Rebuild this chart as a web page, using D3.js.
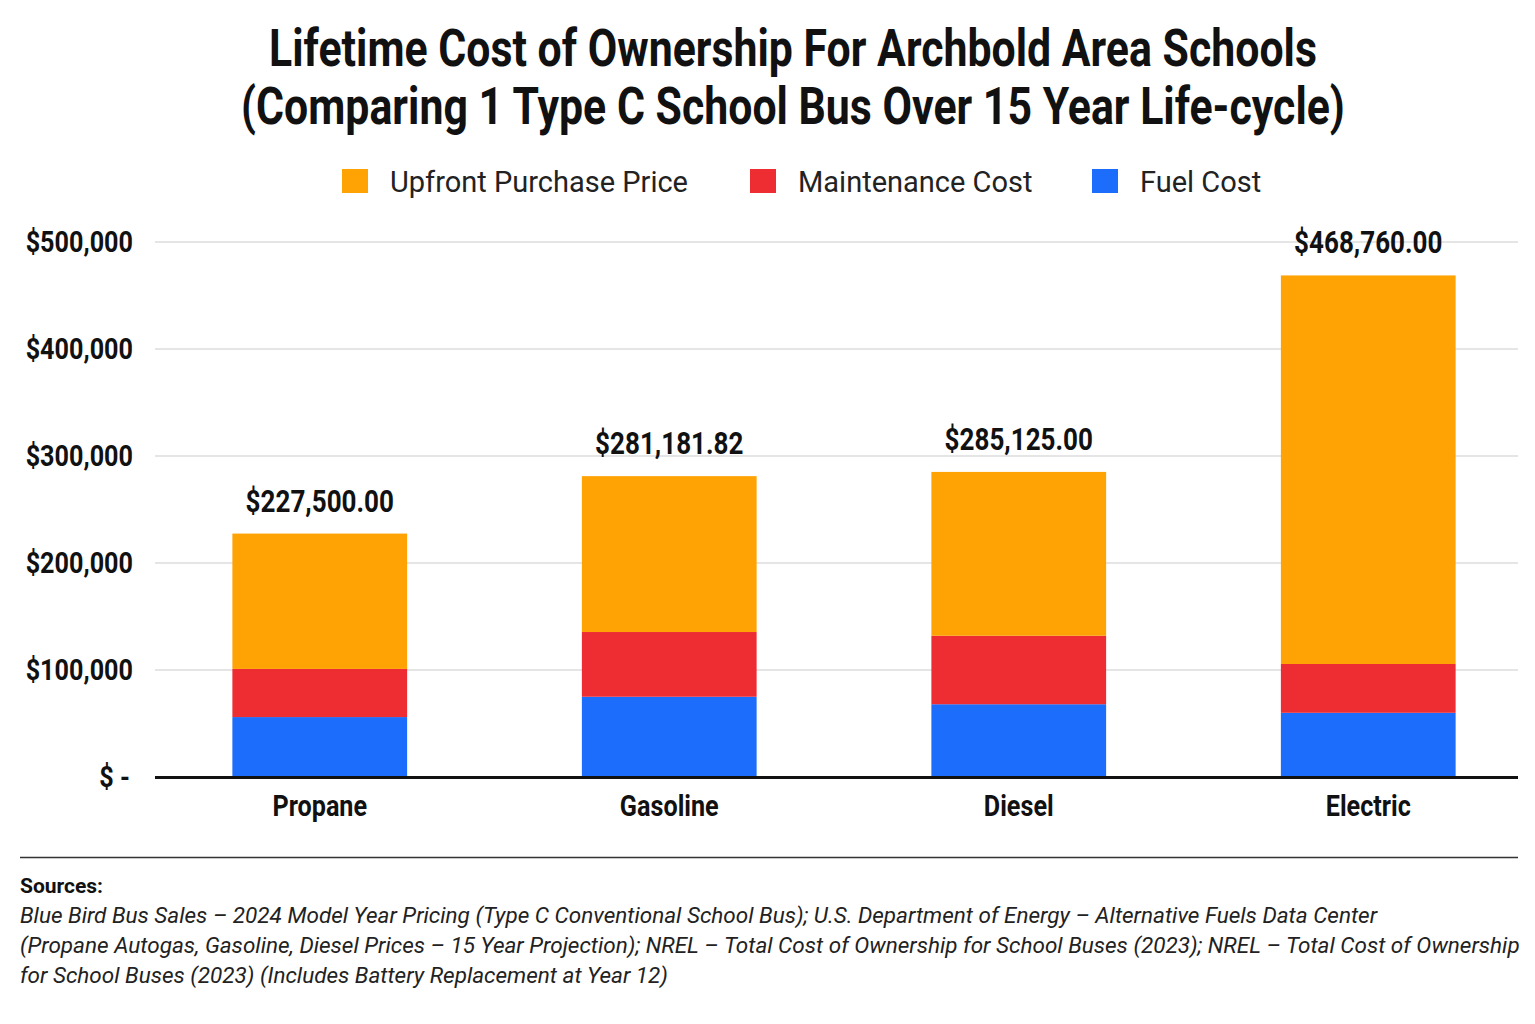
<!DOCTYPE html>
<html>
<head>
<meta charset="utf-8">
<script src="https://cdn.jsdelivr.net/npm/d3@7"></script>
<style>
  body { margin: 0; background: #fff; }
</style>
</head>
<body>
<svg id="chart" width="1535" height="1024"></svg>
<script>
// data
var categories = ["Propane", "Gasoline", "Diesel", "Electric"];
var fuelCost = [56000, 75000, 68000, 60000];
var maintenanceCost = [45000, 60500, 64000, 45600];
var upfrontPrice = [126500, 145681.82, 153125, 363160];
var totalLabels = ["$227,500.00", "$281,181.82", "$285,125.00", "$468,760.00"];
var yTicks = [0, 100000, 200000, 300000, 400000, 500000];
var seriesNames = ["Upfront Purchase Price", "Maintenance Cost", "Fuel Cost"];

var colors = { fuel: "#1c6dfb", maint: "#ee2d33", upfront: "#ffa305" };
var font = "Roboto, sans-serif";
var squeeze = 0.84;   // fake a condensed face

var svg = d3.select("svg#chart");

var rows = categories.map(function(c, i){
    return { cat: c, fuel: fuelCost[i], maint: maintenanceCost[i], upfront: upfrontPrice[i], label: totalLabels[i] };
});

var x = d3.scaleBand().domain(categories).range([145, 1543]).paddingInner(0.5).paddingOuter(0.25);
var y = d3.scaleLinear().domain([0, 500000]).range([777, 242]);

function narrow(sel, px, py){
    return sel.attr("transform", function(d){
        return "translate(" + px(d) + "," + py(d) + ") scale(" + squeeze + ",1)";
    });
}

// title
var titles = ["Lifetime Cost of Ownership For Archbold Area Schools", "(Comparing 1 Type C School Bus Over 15 Year Life-cycle)"];
narrow(svg.append("g").selectAll("text").data(titles).enter().append("text"),
        function(d, i){ return 793; }, function(d){ return titles.indexOf(d) ? 124 : 66; })
    .attr("text-anchor", "middle")
    .attr("font-family", font).attr("font-weight", "bold").attr("font-size", 51).attr("fill", "#111")
    .text(function(d){ return d; });

// legend
var legendX = [342, 750, 1092];
var legendColors = [colors.upfront, colors.maint, colors.fuel];
seriesNames.forEach(function(n, i){
    svg.append("rect").attr("x", legendX[i]).attr("y", 169).attr("width", 26).attr("height", 24).attr("fill", legendColors[i]);
    svg.append("text").attr("x", legendX[i] + 48).attr("y", 192)
        .attr("font-family", font).attr("font-size", 29).attr("fill", "#222").text(n);
});

// grid
svg.append("g").selectAll("line").data(yTicks.slice(1)).enter().append("line")
    .attr("x1", 155).attr("x2", 1518)
    .attr("y1", function(d){ return y(d); }).attr("y2", function(d){ return y(d); })
    .attr("stroke", "#ddd").attr("stroke-width", 1.5);

// y axis labels
narrow(svg.append("g").selectAll("text").data(yTicks).enter().append("text"),
        function(d){ return d === 0 ? 130 : 133; }, function(d){ return y(d) + 10; })
    .attr("text-anchor", "end")
    .attr("font-family", font).attr("font-weight", "bold").attr("font-size", 30).attr("fill", "#111")
    .text(function(d){ return d === 0 ? "$ -" : "$" + d3.format(",")(d); });

// stacked bars
var stack = d3.stack().keys(["fuel", "maint", "upfront"])(rows);
svg.append("g").selectAll("g").data(stack).enter().append("g")
    .attr("fill", function(s){ return colors[s.key]; })
    .selectAll("rect").data(function(s){ return s; }).enter().append("rect")
    .attr("x", function(d){ return x(d.data.cat); })
    .attr("width", x.bandwidth())
    .attr("y", function(d){ return y(d[1]); })
    .attr("height", function(d){ return y(d[0]) - y(d[1]); });

// total labels
narrow(svg.append("g").selectAll("text").data(rows).enter().append("text"),
        function(d){ return x(d.cat) + x.bandwidth() / 2; },
        function(d){ return y(d.fuel + d.maint + d.upfront) - 22; })
    .attr("text-anchor", "middle")
    .attr("font-family", font).attr("font-weight", "bold").attr("font-size", 31).attr("fill", "#111")
    .text(function(d){ return d.label; });

// baseline
svg.append("line").attr("x1", 155).attr("x2", 1518).attr("y1", 777.5).attr("y2", 777.5)
    .attr("stroke", "#111").attr("stroke-width", 3);

// x labels
narrow(svg.append("g").selectAll("text").data(categories).enter().append("text"),
        function(d){ return x(d) + x.bandwidth() / 2; }, function(){ return 816; })
    .attr("text-anchor", "middle")
    .attr("font-family", font).attr("font-weight", "bold").attr("font-size", 30).attr("fill", "#111")
    .text(function(d){ return d; });

// sources
svg.append("line").attr("x1", 20).attr("x2", 1518).attr("y1", 857.5).attr("y2", 857.5)
    .attr("stroke", "#333").attr("stroke-width", 1.5);
svg.append("text").attr("x", 20).attr("y", 893)
    .attr("font-family", font).attr("font-weight", "bold").attr("font-size", 21).attr("fill", "#111")
    .text("Sources:");
var sourceLines = [
    "Blue Bird Bus Sales \u2013 2024 Model Year Pricing (Type C Conventional School Bus); U.S. Department of Energy \u2013 Alternative Fuels Data Center",
    "(Propane Autogas, Gasoline, Diesel Prices \u2013 15 Year Projection); NREL \u2013 Total Cost of Ownership for School Buses (2023); NREL \u2013 Total Cost of Ownership",
    "for School Buses (2023) (Includes Battery Replacement at Year 12)"
];
svg.append("g").selectAll("text").data(sourceLines).enter().append("text")
    .attr("x", 20).attr("y", function(d, i){ return 923 + i * 30; })
    .attr("font-family", font).attr("font-style", "italic").attr("font-size", 22.5).attr("fill", "#222")
    .text(function(d){ return d; });
</script>
</body>
</html>
